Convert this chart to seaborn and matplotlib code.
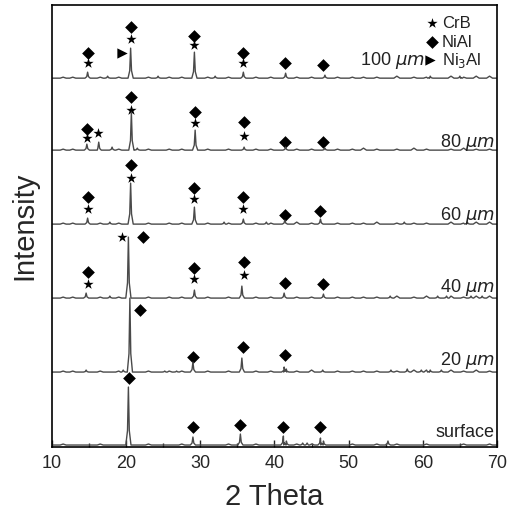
import numpy as np
import pandas as pd
import matplotlib
matplotlib.use("Agg")
import matplotlib.pyplot as plt
import seaborn as sns

sns.set_theme(style="ticks")
plt.rcParams['font.family'] = ['Liberation Sans', 'DejaVu Sans']

# ---- data (2-theta positions and relative intensities) ----
samples = ["surface", "20", "40", "60", "80", "100"]
labels = ["surface", r"20 $\mu m$", r"40 $\mu m$", r"60 $\mu m$", r"80 $\mu m$", r"100 $\mu m$"]
offsets = [2, 75, 149, 223, 297, 369]

peaks_surface_x = [20.3, 29.0, 35.4, 41.2, 41.6, 46.2, 46.6, 55.3, 43.8, 44.4]
peaks_surface_h = [58, 8, 11, 9, 4, 7, 4, 4, 2, 2]
peaks_20_x = [14.6, 19.6, 20.5, 29.0, 35.6, 41.3, 41.6, 46.5, 55.7, 57.9, 59.8, 61.0, 62.5, 25.2, 26.8]
peaks_20_h = [2, 2, 74, 10, 14, 5, 3, 2, 2, 3, 2, 2, 2, 1, 1]
peaks_40_x = [14.6, 20.3, 29.2, 35.6, 41.3, 46.6, 17.8, 55.6, 62.0, 63.2, 66.5, 68.0]
peaks_40_h = [5, 61, 8, 12, 5, 4, 2, 2, 2, 2, 2, 2]
peaks_60_x = [14.8, 17.8, 20.6, 29.2, 35.8, 41.4, 46.2, 33.2, 38.9, 57.5, 66.0]
peaks_60_h = [6, 2, 41, 17, 5, 4, 5, 2, 2, 2, 2]
peaks_80_x = [14.7, 16.3, 18.1, 20.7, 29.3, 35.9, 41.5, 46.8, 21.5]
peaks_80_h = [6, 8, 3, 38, 20, 3, 3, 2, 2]
peaks_100_x = [14.8, 20.6, 29.2, 35.8, 41.5, 46.8, 17.5, 24.3, 32.0, 61.0, 65.0]
peaks_100_h = [6, 30, 26, 6, 5, 3, 2, 2, 2, 2, 2]

# small background wiggles (2-theta positions, heights)
bg_x = [11.5, 12.8, 16.5, 19.0, 23.0, 25.8, 27.5, 31.0, 33.8, 37.5, 39.5, 43.0,
        45.0, 48.5, 50.5, 52.0, 53.8, 56.5, 58.8, 60.5, 63.8, 65.5, 67.2, 69.0]
bg_h_surface = [1, 0, 1, 0, 1, 0, 1, 0, 1, 1, 0, 1, 1, 0, 1, 0, 1, 1, 0, 1, 0, 1, 0, 1]
bg_h_20 = [1, 1, 1, 1, 1, 1, 1, 1, 1, 1, 1, 1, 2, 1, 1, 1, 1, 1, 2, 2, 2, 1, 2, 1]
bg_h_40 = [1, 1, 1, 1, 1, 1, 1, 1, 1, 1, 1, 1, 1, 1, 1, 1, 1, 2, 1, 2, 2, 1, 2, 2]
bg_h_60 = [1, 1, 1, 1, 1, 1, 1, 1, 1, 1, 1, 2, 1, 1, 1, 1, 2, 1, 1, 1, 2, 1, 2, 2]
bg_h_80 = [1, 1, 1, 1, 1, 1, 1, 1, 1, 1, 1, 1, 1, 1, 1, 2, 1, 1, 2, 1, 1, 2, 1, 1]
bg_h_100 = [1, 1, 1, 1, 1, 1, 1, 1, 1, 1, 1, 1, 1, 1, 1, 1, 1, 2, 1, 1, 2, 1, 2, 2]

peaks_x = [peaks_surface_x, peaks_20_x, peaks_40_x, peaks_60_x, peaks_80_x, peaks_100_x]
peaks_h = [peaks_surface_h, peaks_20_h, peaks_40_h, peaks_60_h, peaks_80_h, peaks_100_h]
bg_h = [bg_h_surface, bg_h_20, bg_h_40, bg_h_60, bg_h_80, bg_h_100]

# phase markers
crb_x = [14.8, 20.6, 29.2, 35.8, 14.7, 16.2, 20.7, 29.3, 35.9, 14.8, 20.6, 29.2, 35.8, 19.4, 14.8, 29.2, 35.9]
crb_y = [384, 408, 402, 384, 309, 314, 337, 324, 311, 238, 269, 248, 238, 210, 163, 168, 172]
nial_x = [14.8, 20.6, 29.2, 35.8, 41.4, 46.5, 14.7, 20.7, 29.3, 35.9, 41.4, 46.6,
          14.8, 20.6, 29.2, 35.8, 41.4, 46.1, 22.3, 14.8, 29.2, 35.9, 41.4, 46.6,
          21.9, 29.0, 35.7, 41.4, 20.4, 29.0, 35.3, 41.2, 46.2]
nial_y = [394, 420, 411, 394, 384, 382, 318, 350, 335, 325, 305, 305,
          250, 282, 259, 250, 232, 236, 210, 175, 179, 185, 164, 163,
          137, 90, 100, 92, 69, 20, 22, 20, 20]
ni3al_x = [19.4]
ni3al_y = [394]

# ---- build traces ----
frames = []
for s, off, px, ph, bh in zip(samples, offsets, peaks_x, peaks_h, bg_h):
    xs = [10.0, 70.0]
    ys = [0.0, 0.0]
    for p, h in zip(px, ph):
        xs += [p - 0.35, p - 0.12, p, p + 0.12, p + 0.35]
        ys += [0, h * 0.25, h, h * 0.25, 0]
    for p, h in zip(bg_x, bh):
        xs += [p - 0.4, p, p + 0.4]
        ys += [0, h, 0]
    d = pd.DataFrame({"x": xs, "y": np.array(ys) + off}).sort_values("x")
    d["sample"] = s
    frames.append(d)
df = pd.concat(frames, ignore_index=True)

fig = plt.figure(figsize=(5.15, 5.18), dpi=100)
ax = fig.add_axes([0.101, 0.137, 0.864, 0.853])

for s in samples:
    sub = df[df["sample"] == s]
    sns.lineplot(data=sub, x="x", y="y", ax=ax, color="#4a4a4a", lw=1.0,
                 sort=False, estimator=None, legend=False)

sns.scatterplot(x=crb_x, y=crb_y, marker="*", s=60, color="black", ax=ax, linewidth=0)
sns.scatterplot(x=nial_x, y=nial_y, marker="D", s=42, color="black", ax=ax, linewidth=0)
sns.scatterplot(x=ni3al_x, y=ni3al_y, marker=">", s=55, color="black", ax=ax, linewidth=0)

# sample labels
label_y = [15, 87, 160, 232, 305, 387]
for lab, ly in zip(labels[:-1], label_y[:-1]):
    ax.text(69.7, ly, lab, ha="right", va="center", fontsize=13, color="#222222")
ax.text(60.3, label_y[-1], labels[-1], ha="right", va="center", fontsize=13, color="#222222")

# legend
ax.scatter([61.3], [424], marker="*", s=60, color="black", linewidth=0)
ax.scatter([61.3], [405], marker="D", s=42, color="black", linewidth=0)
ax.scatter([61.0], [387], marker=">", s=55, color="black", linewidth=0)
ax.text(62.6, 424, "CrB", ha="left", va="center", fontsize=12, color="#222222")
ax.text(62.6, 405, "NiAl", ha="left", va="center", fontsize=12, color="#222222")
ax.text(62.6, 387, r"Ni$_3$Al", ha="left", va="center", fontsize=12, color="#222222")

ax.set_xlim(10, 70)
ax.set_ylim(0, 442)
ax.set_xticks([10, 20, 30, 40, 50, 60, 70])
ax.set_xticks([15, 25, 35, 45, 55, 65], minor=True)
ax.set_yticks([])
ax.tick_params(axis="x", direction="in", length=5, width=1, labelsize=13, pad=6)
ax.tick_params(axis="x", which="minor", direction="in", length=3, width=1)
ax.set_xlabel("2 Theta", fontsize=21, labelpad=8)
ax.set_ylabel("Intensity", fontsize=21, labelpad=10)
for sp in ax.spines.values():
    sp.set_color("black")
    sp.set_linewidth(1.2)

fig.savefig("out.png", dpi=100)
